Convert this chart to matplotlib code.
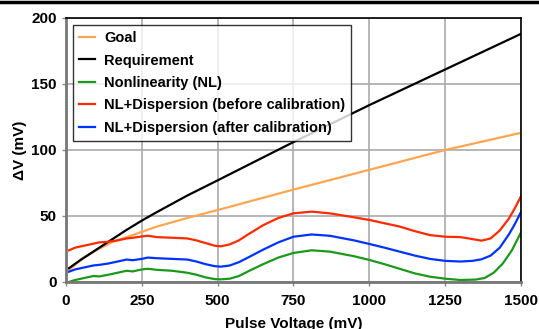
import matplotlib
matplotlib.use("Agg")
import matplotlib.pyplot as plt
from matplotlib.lines import Line2D

plt.rcParams['font.family'] = ['Liberation Sans', 'DejaVu Sans']
plt.rcParams['font.weight'] = 'bold'

# data (pulse voltage in mV, delta V in mV)
goal_x = [10, 50, 100, 150, 200, 250, 300, 400, 500, 750, 1000, 1250, 1500]
goal_y = [9, 17, 24, 30, 34, 38, 42, 48.5, 54.5, 70, 85, 100, 113]

req_x = [10, 50, 100, 150, 200, 250, 300, 400, 500, 750, 1000, 1250, 1500]
req_y = [10.5, 17, 24.5, 32, 39.5, 46.5, 53, 65.5, 77, 106, 134, 161, 188]

nl_x = [10, 30, 60, 90, 110, 140, 170, 200, 220, 250, 270, 300, 350, 400, 430,
        460, 490, 510, 540, 570, 600, 650, 700, 750, 810, 870, 950, 1000, 1050,
        1100, 1150, 1200, 1250, 1300, 1350, 1380, 1410, 1440, 1470, 1500]
nl_y = [0, 1.5, 3, 4.5, 4.2, 5.5, 7, 8.5, 8, 9.5, 10, 9.2, 8.5, 7, 5.5,
        3.5, 2.2, 2, 2.5, 4.5, 8, 13.5, 18.5, 22, 24, 23, 19.5, 16.7, 13.5,
        10, 6.5, 4, 2.5, 1.5, 1.8, 3, 7, 14, 24, 37.6]

bef_x = [10, 30, 60, 90, 110, 140, 170, 200, 220, 250, 270, 300, 350, 400, 430,
         460, 490, 510, 540, 570, 600, 650, 700, 750, 810, 870, 950, 1000, 1050,
         1100, 1150, 1200, 1250, 1300, 1340, 1370, 1400, 1430, 1460, 1480, 1500]
bef_y = [24, 26, 27.5, 29, 30, 30.5, 31.5, 33, 33.5, 34.5, 35, 34, 33.5, 33, 31.5,
         29.5, 27.5, 27, 28.5, 31.5, 36, 43, 48.5, 52, 53.3, 52, 49, 47, 44.5,
         42, 38.5, 35.5, 34.3, 34, 32.5, 31.3, 33, 39, 48, 56, 65]

aft_x = [10, 30, 60, 90, 110, 140, 170, 200, 220, 250, 270, 300, 350, 400, 430,
         460, 490, 510, 540, 570, 600, 650, 700, 750, 810, 870, 950, 1000, 1050,
         1100, 1150, 1200, 1250, 1300, 1340, 1370, 1400, 1430, 1460, 1480, 1500]
aft_y = [7.8, 9.5, 11, 12.5, 13, 14, 15.5, 17, 16.5, 17.5, 18.5, 18, 17.5, 17, 15.5,
         13.5, 12, 11.6, 12.5, 15, 18.5, 24.5, 30, 34.3, 36, 35, 31.5, 28.8, 26,
         23, 20, 17.5, 16, 15.5, 16, 17.2, 20, 26, 36, 44, 53]

names = ["Goal", "Requirement", "Nonlinearity (NL)",
         "NL+Dispersion (before calibration)", "NL+Dispersion (after calibration)"]
colors = ["#ffa552", "#000000", "#1a9a1a", "#ff2a00", "#0033ff"]

fig = plt.figure(figsize=(5.39, 3.29), dpi=100)
ax = fig.add_axes([0.1224, 0.1429, 0.8442, 0.8024])

series = [(goal_x, goal_y), (req_x, req_y), (nl_x, nl_y), (bef_x, bef_y), (aft_x, aft_y)]
for (xs, ys), name, c in zip(series, names, colors):
    ax.plot(xs, ys, color=c, lw=1.6, label=name)

ax.set_xlim(0, 1500)
ax.set_ylim(0, 200)
ax.set_xticks([0, 250, 500, 750, 1000, 1250, 1500])
ax.set_yticks([0, 50, 100, 150, 200])
ax.grid(True, color='#aaaaaa', lw=1.2)
ax.set_axisbelow(True)
ax.tick_params(labelsize=11, color='#888888', length=3, width=1)
ax.tick_params(axis='x', pad=6)
for lab in ax.get_xticklabels() + ax.get_yticklabels():
    lab.set_fontweight('bold')

for s in ['left', 'bottom']:
    ax.spines[s].set_color('#777777')
    ax.spines[s].set_linewidth(2)
for s in ['top', 'right']:
    ax.spines[s].set_color('black')
    ax.spines[s].set_linewidth(1.2)

ax.set_xlabel("Pulse Voltage (mV)", fontsize=11, fontweight='bold', labelpad=6)
ax.set_ylabel("ΔV (mV)", fontsize=11, fontweight='bold', labelpad=3)

leg = ax.legend(loc='upper left', fontsize=10.5, frameon=True, fancybox=False,
                borderaxespad=0.5, handlelength=1.1, handletextpad=0.6,
                labelspacing=0.58, borderpad=0.4)
leg.get_frame().set_edgecolor('black')
leg.get_frame().set_linewidth(1)
for t in leg.get_texts():
    t.set_fontweight('bold')

# black rule at the very top of the image
fig.add_artist(Line2D([0, 1], [0.993, 0.993], color='black', lw=2.5,
                      transform=fig.transFigure))

fig.savefig("out.png", dpi=100)
